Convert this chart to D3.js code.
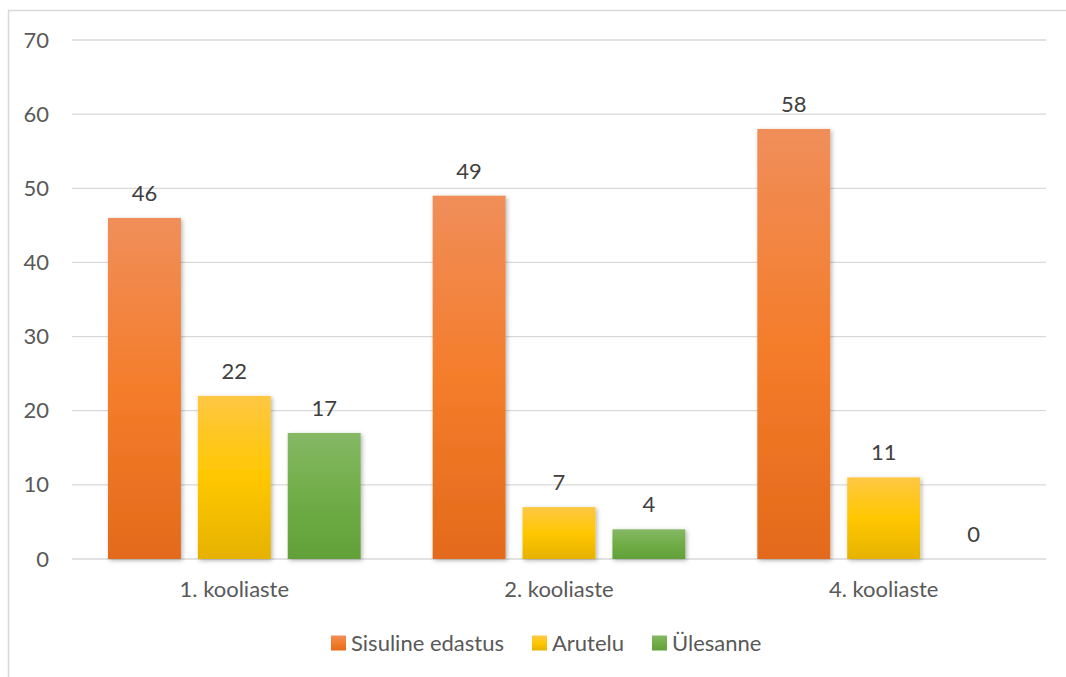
<!DOCTYPE html>
<html>
<head>
<meta charset="utf-8">
<script src="https://cdn.jsdelivr.net/npm/d3@7/dist/d3.min.js"></script>
<style>
  html, body { margin: 0; padding: 0; background: #fff; }
  svg { display: block; font-family: Lato, "Open Sans", sans-serif; }
</style>
</head>
<body>
<svg id="chart" width="1066" height="677"></svg>
<script>
const categories = ["1. kooliaste", "2. kooliaste", "4. kooliaste"];
const seriesNames = ["Sisuline edastus", "Arutelu", "Ülesanne"];
const sisuline = [46, 49, 58];
const arutelu = [22, 7, 11];
const ulesanne = [17, 4, 0];
const yTicks = [0, 10, 20, 30, 40, 50, 60, 70];

const seriesValues = [sisuline, arutelu, ulesanne];
const gradients = [
  ["#F08E5A", "#F47D2B", "#E36A1A"],
  ["#FFC743", "#FFC700", "#E6B200"],
  ["#85B865", "#70AD47", "#62A039"]
];

const FONT = 22;
const svg = d3.select("#chart");
const W = 1066, H = 677;
const plot = { left: 72, right: 1046, top: 40, bottom: 559 };

const defs = svg.append("defs");
gradients.forEach((g, i) => {
  const lg = defs.append("linearGradient").attr("id", "grad" + i)
    .attr("x1", 0).attr("y1", 0).attr("x2", 0).attr("y2", 1);
  lg.append("stop").attr("offset", "0%").attr("stop-color", g[0]);
  lg.append("stop").attr("offset", "50%").attr("stop-color", g[1]);
  lg.append("stop").attr("offset", "100%").attr("stop-color", g[2]);
});
const sh = defs.append("filter").attr("id", "shadow")
  .attr("x", "-10%").attr("y", "-10%").attr("width", "130%").attr("height", "130%");
sh.append("feDropShadow").attr("dx", 1.5).attr("dy", 1.5).attr("stdDeviation", 2)
  .attr("flood-color", "#000").attr("flood-opacity", 0.3);

// outer chart border
svg.append("rect").attr("x", 8.5).attr("y", 10.5).attr("width", W + 10).attr("height", H + 10)
  .attr("fill", "none").attr("stroke", "#D9D9D9").attr("stroke-width", 1.5);

const y = d3.scaleLinear().domain([0, 70]).range([plot.bottom, plot.top]);
const x0 = d3.scaleBand().domain(categories).range([plot.left, plot.right]).padding(0);
const x1 = d3.scaleBand().domain(seriesNames).range([36, x0.bandwidth() - 36]).paddingInner(17 / 90);

// gridlines
svg.append("g").selectAll("line").data(yTicks).join("line")
  .attr("x1", plot.left).attr("x2", plot.right)
  .attr("y1", d => y(d)).attr("y2", d => y(d))
  .attr("stroke", "#D9D9D9").attr("stroke-width", 1.3);

// y axis labels
const yAxis = svg.append("g").attr("transform", `translate(${plot.left - 23},0)`)
  .call(d3.axisLeft(y).tickValues(yTicks).tickSize(0).tickPadding(0));
yAxis.select(".domain").remove();
yAxis.selectAll("text").attr("font-size", FONT).attr("fill", "#595959")
  .attr("font-family", "Lato, 'Open Sans', sans-serif");

// bars
const groups = svg.append("g").selectAll("g").data(categories).join("g")
  .attr("transform", c => `translate(${x0(c)},0)`);

groups.each(function (c, ci) {
  const g = d3.select(this);
  seriesNames.forEach((s, si) => {
    const v = seriesValues[si][ci];
    if (v > 0) {
      g.append("rect")
        .attr("x", x1(s)).attr("width", x1.bandwidth())
        .attr("y", y(v)).attr("height", y(0) - y(v))
        .attr("fill", `url(#grad${si})`)
        .attr("filter", "url(#shadow)");
    }
    g.append("text")
      .attr("x", x1(s) + x1.bandwidth() / 2)
      .attr("y", y(v) - 17)
      .attr("text-anchor", "middle")
      .attr("font-size", FONT).attr("fill", "#404040")
      .text(v);
  });
});

// x axis labels
const xAxis = svg.append("g").attr("transform", `translate(0,${plot.bottom})`)
  .call(d3.axisBottom(x0).tickSize(0).tickPadding(22));
xAxis.select(".domain").remove();
xAxis.selectAll("text").attr("font-size", FONT).attr("fill", "#595959")
  .attr("font-family", "Lato, 'Open Sans', sans-serif");

// legend
const legend = svg.append("g");
const legendX = [331, 532, 652];
seriesNames.forEach((s, i) => {
  const lg = legend.append("g").attr("transform", `translate(${legendX[i]},643)`);
  lg.append("rect").attr("x", 0).attr("y", -7.5).attr("width", 15).attr("height", 15)
    .attr("fill", `url(#grad${i})`);
  lg.append("text").attr("x", 20).attr("y", 0).attr("dy", "0.35em")
    .attr("font-size", FONT).attr("fill", "#595959").text(s);
});
</script>
</body>
</html>
